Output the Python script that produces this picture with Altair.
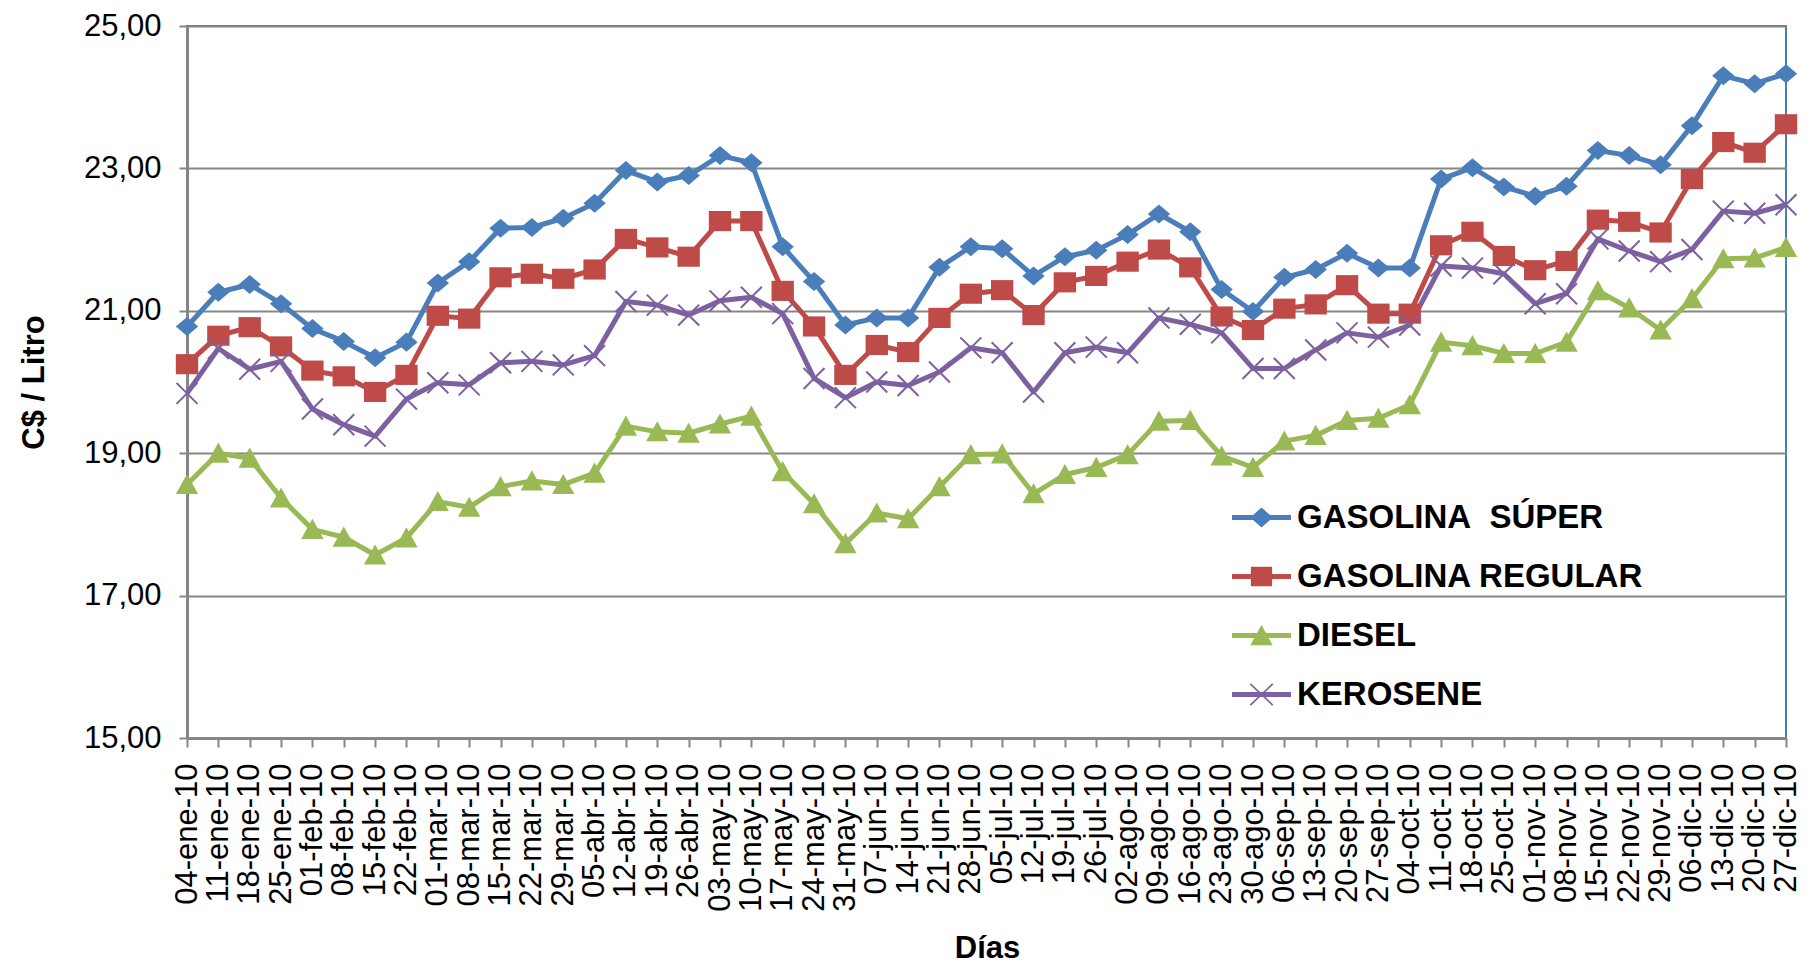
import altair as alt
import pandas as pd

fechas = [
    "04-ene-10", "11-ene-10", "18-ene-10", "25-ene-10", "01-feb-10", "08-feb-10", "15-feb-10", "22-feb-10",
    "01-mar-10", "08-mar-10", "15-mar-10", "22-mar-10", "29-mar-10", "05-abr-10", "12-abr-10", "19-abr-10",
    "26-abr-10", "03-may-10", "10-may-10", "17-may-10", "24-may-10", "31-may-10", "07-jun-10", "14-jun-10",
    "21-jun-10", "28-jun-10", "05-jul-10", "12-jul-10", "19-jul-10", "26-jul-10", "02-ago-10", "09-ago-10",
    "16-ago-10", "23-ago-10", "30-ago-10", "06-sep-10", "13-sep-10", "20-sep-10", "27-sep-10", "04-oct-10",
    "11-oct-10", "18-oct-10", "25-oct-10", "01-nov-10", "08-nov-10", "15-nov-10", "22-nov-10", "29-nov-10",
    "06-dic-10", "13-dic-10", "20-dic-10", "27-dic-10",
]

super_ = [
    20.78, 21.26, 21.37, 21.10, 20.75, 20.57, 20.34, 20.56, 21.39, 21.69, 22.16, 22.17, 22.30, 22.51,
    22.97, 22.81, 22.90, 23.18, 23.08, 21.90, 21.41, 20.80, 20.90, 20.90, 21.61, 21.90, 21.87, 21.49,
    21.76, 21.85, 22.07, 22.36, 22.11, 21.30, 20.99, 21.47, 21.58, 21.81, 21.60, 21.60, 22.85, 23.01,
    22.74, 22.61, 22.75, 23.25, 23.18, 23.05, 23.60, 24.30, 24.19, 24.33,
]
regular = [
    20.25, 20.65, 20.77, 20.50, 20.16, 20.08, 19.86, 20.10, 20.93, 20.89, 21.47, 21.52, 21.45, 21.58,
    22.01, 21.89, 21.76, 22.26, 22.26, 21.28, 20.78, 20.10, 20.52, 20.42, 20.90, 21.24, 21.29, 20.94,
    21.40, 21.49, 21.69, 21.86, 21.61, 20.92, 20.73, 21.03, 21.09, 21.36, 20.96, 20.96, 21.92, 22.11,
    21.77, 21.57, 21.70, 22.28, 22.25, 22.10, 22.85, 23.37, 23.22, 23.62,
]
diesel = [
    18.56, 19.00, 18.93, 18.37, 17.93, 17.82, 17.57, 17.81, 18.32, 18.24, 18.53, 18.61, 18.56, 18.72,
    19.38, 19.30, 19.28, 19.41, 19.52, 18.74, 18.29, 17.73, 18.16, 18.08, 18.53, 18.98, 18.99, 18.43,
    18.70, 18.80, 18.98, 19.45, 19.46, 18.96, 18.80, 19.17, 19.25, 19.46, 19.49, 19.68, 20.56, 20.51,
    20.40, 20.40, 20.56, 21.28, 21.04, 20.73, 21.17, 21.73, 21.74, 21.89,
]
kerosene = [
    19.84, 20.47, 20.18, 20.29, 19.62, 19.40, 19.24, 19.76, 19.99, 19.96, 20.27, 20.29, 20.24, 20.37,
    21.13, 21.08, 20.94, 21.14, 21.19, 20.96, 20.05, 19.78, 20.00, 19.95, 20.14, 20.48, 20.41, 19.86,
    20.41, 20.49, 20.41, 20.90, 20.81, 20.69, 20.19, 20.19, 20.45, 20.69, 20.63, 20.80, 21.63, 21.60,
    21.52, 21.10, 21.24, 22.01, 21.84, 21.69, 21.86, 22.40, 22.37, 22.49,
]

series = ["GASOLINA  SÚPER", "GASOLINA REGULAR", "DIESEL", "KEROSENE"]
colors = ["#4A7EBB", "#BE4B48", "#98B954", "#7D60A0"]
y_ticks = [15, 17, 19, 21, 23, 25]

rows = []
for name, vals in zip(series, [super_, regular, diesel, kerosene]):
    for f, v in zip(fechas, vals):
        rows.append({"fecha": f, "precio": v, "serie": name, "orden": series.index(name)})
df = pd.DataFrame(rows)

FONT = "Liberation Sans"
GRAY = "#868686"

# marker shapes (custom SVG paths, unit square [-1,1])
diamond = "M0,-0.85L1,0L0,0.85L-1,0Z"
square = "M-1,-0.9H1V0.9H-1Z"
triangle = "M0,-0.95L1,0.85H-1Z"
xmark = "M-1,-1L1,1M-1,1L1,-1"

# legend symbols: line stub + marker
stub = "M-1,-0.086H1V0.086H-1Z"
leg_diamond = stub + "M0,-0.34L0.38,0L0,0.34L-0.38,0Z"
leg_square = stub + "M-0.36,-0.33H0.36V0.33H-0.36Z"
leg_triangle = stub + "M0,-0.36L0.38,0.33H-0.38Z"
leg_x = stub + "M-0.40,-0.34L-0.36,-0.38L0.40,0.34L0.36,0.38Z" + "M-0.40,0.34L0.36,-0.38L0.40,-0.34L-0.36,0.38Z"

PLOT_W = 1599
PLOT_H = 712

x_enc = alt.X(
    "fecha:N",
    sort=fechas,
    scale=alt.Scale(type="point", padding=0),
    axis=alt.Axis(
        title="Días",
        labelAngle=-90,
        labelFont=FONT,
        labelFontSize=31,
        labelColor="black",
        labelPadding=16,
        labelOverlap=False,
        labelBound=False,
        tickSize=9,
        tickColor=GRAY,
        tickWidth=2,
        domainColor=GRAY,
        domainWidth=3,
        grid=False,
        titleFont=FONT,
        titleFontSize=31,
        titleFontWeight="bold",
        titleColor="black",
        titleX=800,
        titleY=219,
        titleBaseline="alphabetic",
        titleAlign="center",
    ),
)
y_enc = alt.Y(
    "precio:Q",
    scale=alt.Scale(domain=[15, 25], nice=False, zero=False),
    axis=alt.Axis(
        title="C$ / Litro",
        values=y_ticks,
        labelExpr="replace(format(datum.value, '.2f'), '.', ',')",
        labelFont=FONT,
        labelFontSize=31,
        labelColor="black",
        labelPadding=18,
        tickSize=8,
        tickColor=GRAY,
        tickWidth=2,
        domainColor=GRAY,
        domainWidth=3,
        grid=True,
        gridColor=GRAY,
        gridWidth=2,
        titleFont=FONT,
        titleFontSize=31,
        titleFontWeight="bold",
        titleColor="black",
        titleX=-144,
        titleY=356,
        titleBaseline="alphabetic",
        titleAlign="center",
    ),
)

base = alt.Chart(df)

lines = base.mark_line(strokeWidth=5, strokeJoin="round").encode(
    x=x_enc,
    y=y_enc,
    color=alt.Color("serie:N", scale=alt.Scale(domain=series, range=colors), legend=None),
    order=alt.Order("orden:Q"),
)

filled_pts = base.transform_filter(alt.datum.serie != "KEROSENE").mark_point(
    filled=True, size=500, opacity=1, strokeWidth=0
).encode(
    x=x_enc,
    y=y_enc,
    color=alt.Color("serie:N", scale=alt.Scale(domain=series, range=colors), legend=None),
    shape=alt.Shape("serie:N", scale=alt.Scale(domain=series[:3], range=[diamond, square, triangle]), legend=None),
)

x_pts = base.transform_filter(alt.datum.serie == "KEROSENE").mark_point(
    filled=False, shape=xmark, size=440, strokeWidth=2, color=colors[3], opacity=1
).encode(x=x_enc, y=y_enc)

leg_props = dict(
    orient="none",
    legendX=1045,
    legendY=462,
    title=None,
    padding=0,
    rowPadding=12,
    symbolSize=3481,
    symbolOpacity=1,
    symbolStrokeWidth=0,
    labelFont=FONT,
    labelFontSize=33,
    labelFontWeight="bold",
    labelColor="black",
    labelOffset=6,
    labelLimit=600,
    labelExpr="replace(datum.label, '  ', '\u00a0\u00a0')",
)

legend_layer = base.mark_point(filled=True, opacity=0).encode(
    x=x_enc,
    y=y_enc,
    color=alt.Color("serie:N", scale=alt.Scale(domain=series, range=colors), legend=alt.Legend(**leg_props)),
    shape=alt.Shape(
        "serie:N",
        scale=alt.Scale(domain=series, range=[leg_diamond, leg_square, leg_triangle, leg_x]),
        legend=alt.Legend(**leg_props),
    ),
)

chart = (
    alt.layer(lines, filled_pts, x_pts, legend_layer)
    .resolve_scale(shape="independent", color="independent")
    .properties(
        width=PLOT_W,
        height=PLOT_H,
        autosize=alt.AutoSizeParams(type="none"),
        padding={"left": 179, "top": 18, "right": 16, "bottom": 228},
        background="white",
    )
    .configure_view(stroke="#4A7EBB", strokeWidth=2)
)

chart.save("out.html", embed_options={"renderer": "svg", "actions": False})
